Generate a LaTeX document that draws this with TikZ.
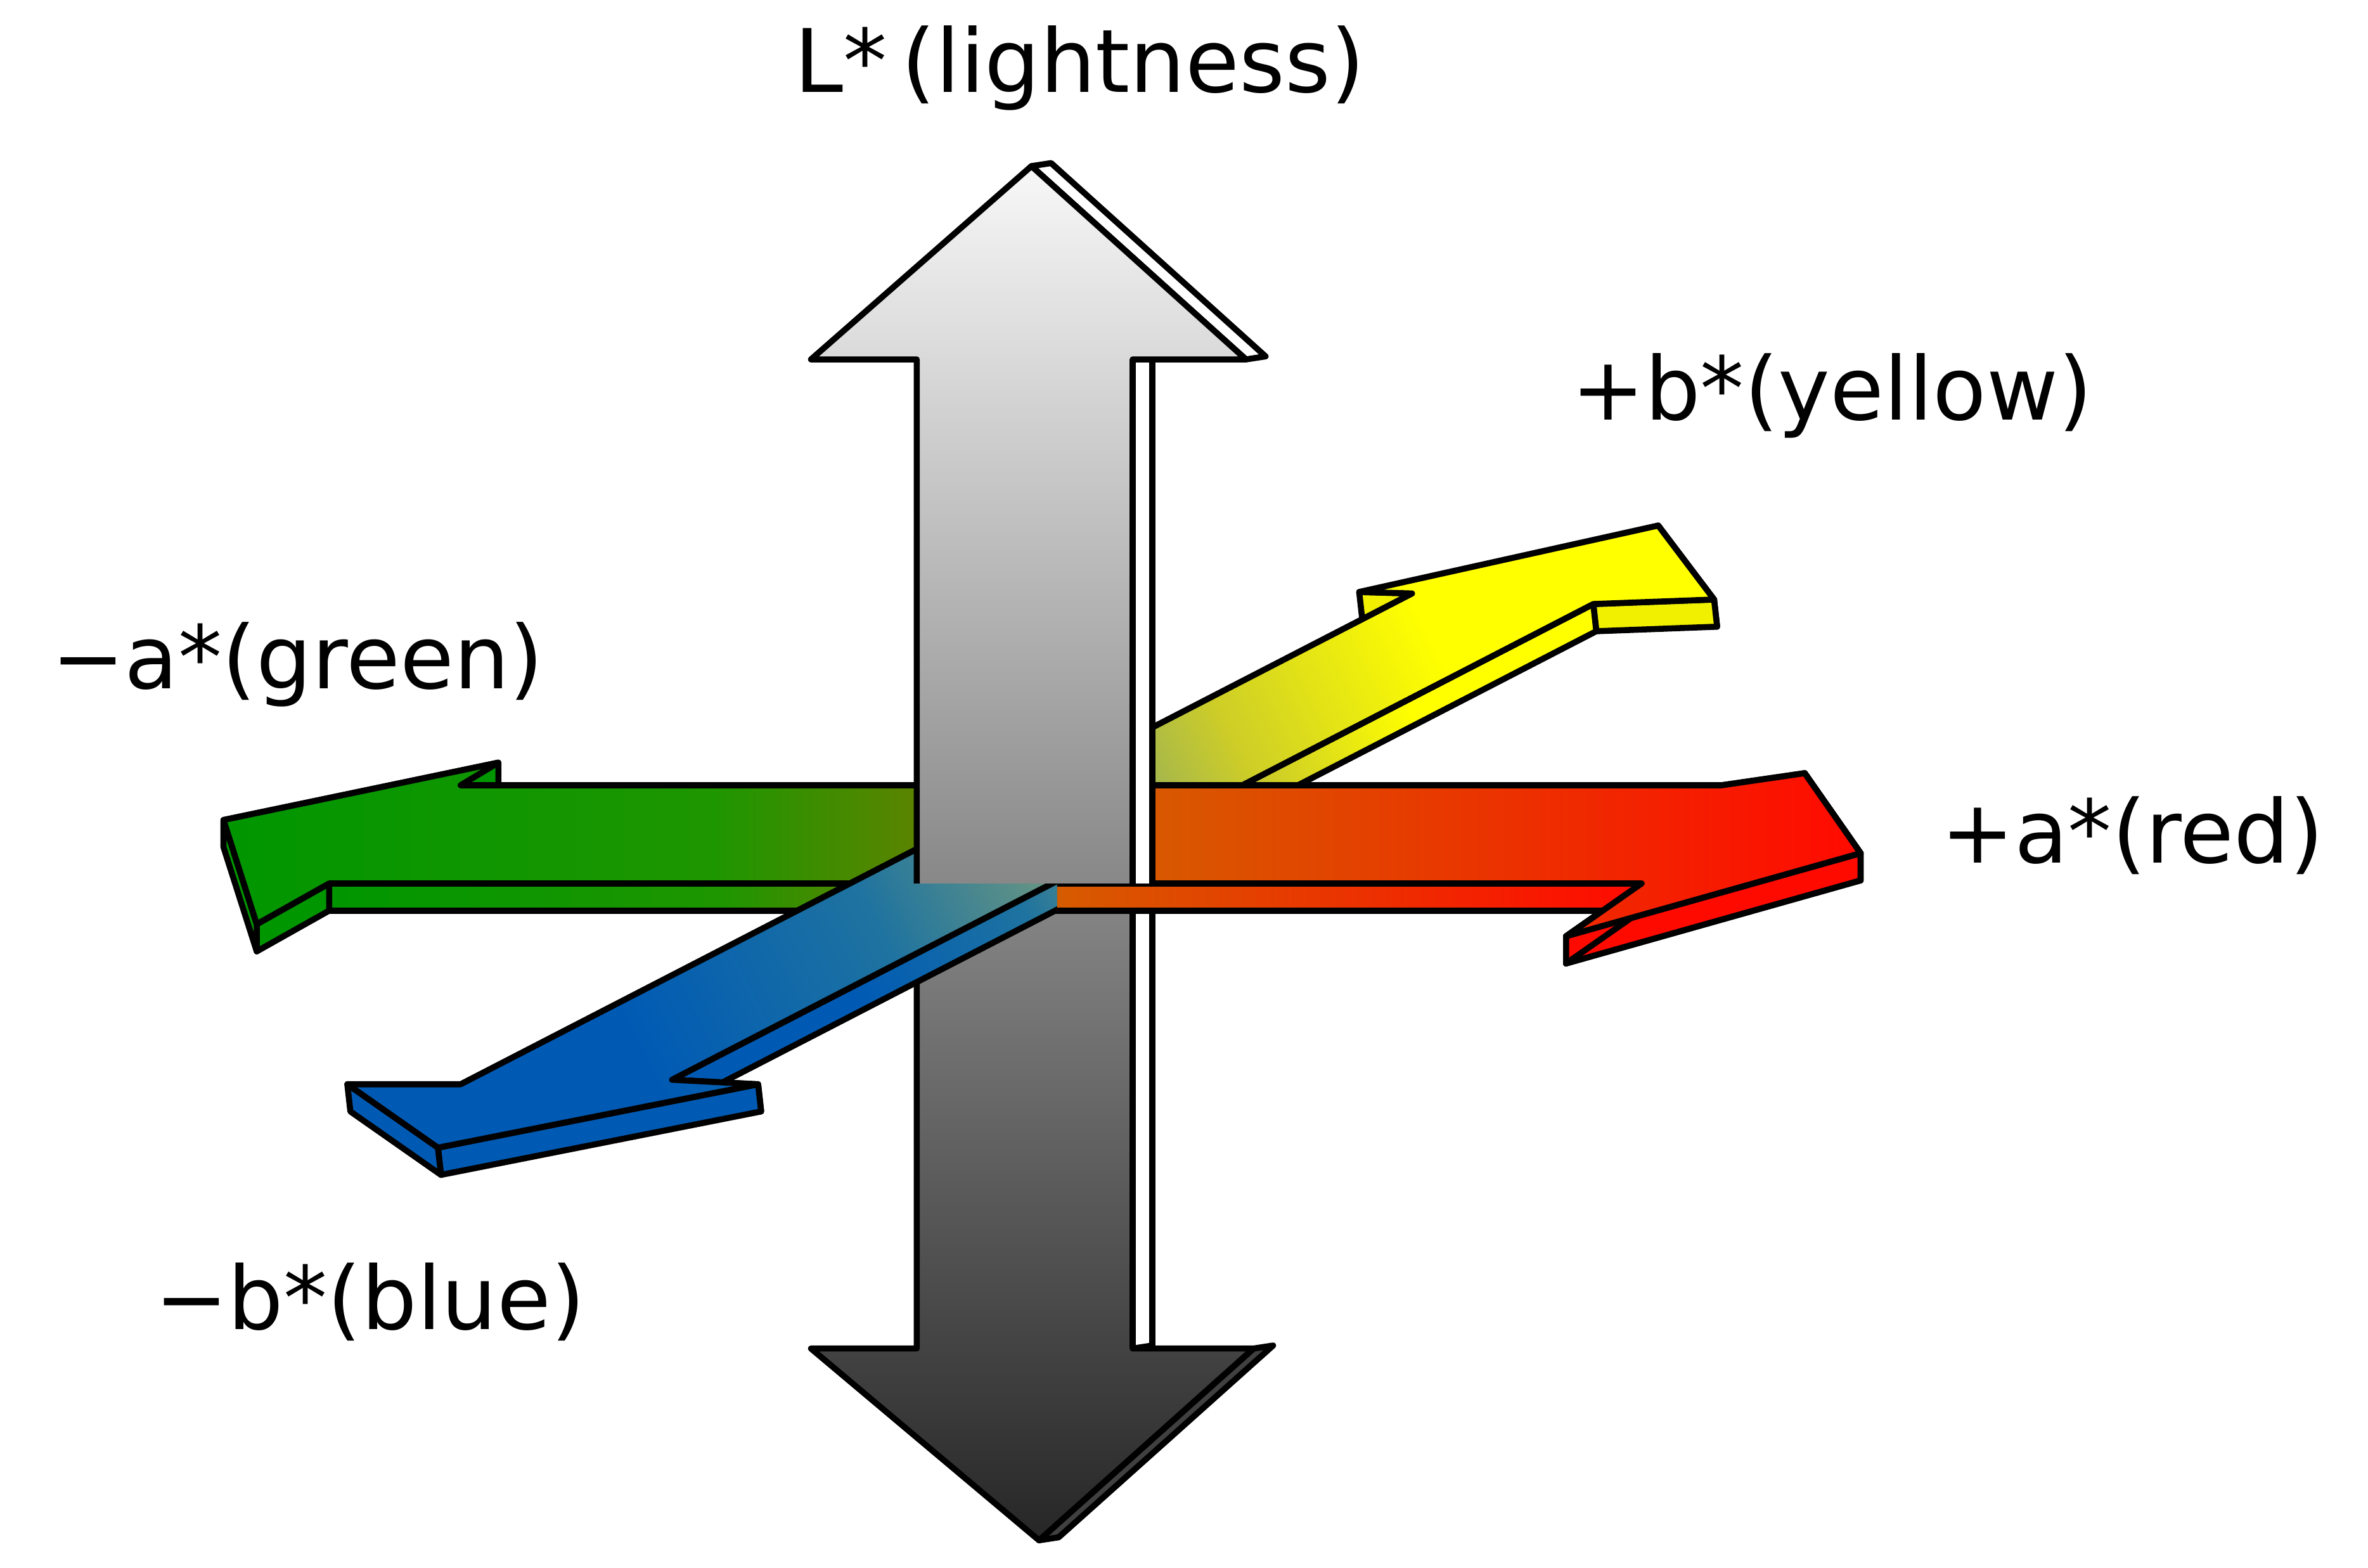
\documentclass[tikz,border=0pt]{standalone}
\usepackage{fontspec}
\setmainfont{DejaVu Sans}
\definecolor{ag1}{RGB}{0,150,0}
\definecolor{ag2}{RGB}{30,150,0}
\definecolor{ag3}{RGB}{130,120,0}
\definecolor{ag4}{RGB}{215,90,0}
\definecolor{ag5}{RGB}{255,10,0}
\definecolor{bb1}{RGB}{0,90,180}
\definecolor{bb2}{RGB}{30,115,160}
\definecolor{bb3}{RGB}{105,150,130}
\definecolor{bb4}{RGB}{205,205,40}
\definecolor{bb5}{RGB}{255,255,0}
\definecolor{yl}{RGB}{240,240,0}
\pgfdeclarehorizontalshading{ashade}{100bp}{color(0bp)=(ag1); color(25bp)=(ag1); color(40bp)=(ag2); color(50bp)=(ag3); color(53bp)=(ag4); color(75bp)=(ag5); color(100bp)=(ag5)}
\pgfdeclarehorizontalshading{bshade}{100bp}{color(0bp)=(bb1); color(30bp)=(bb1); color(42bp)=(bb2); color(50bp)=(bb3); color(60bp)=(bb4); color(70bp)=(bb5); color(100bp)=(bb5)}
\pgfdeclareverticalshading{lshade}{100bp}{color(0bp)=(black!85); color(25bp)=(black!85); color(50bp)=(black!45); color(75bp)=(black!3); color(100bp)=(black!3)}
\newcommand\sq[3]{(#2) -- (#3) -- ([shift={#1}]#3) -- ([shift={#1}]#2) -- cycle}
\tikzset{
  outl/.style={draw=black, line width=4, line join=round},
  lbl/.style={font=\fontsize{58}{62}\selectfont, inner sep=0pt}
}
\begin{document}
\begin{tikzpicture}[x=1pt,y=-1pt]
\useasboundingbox (0,0) rectangle (1568,1038);
% L arrow points
\coordinate (L1) at (683,110); \coordinate (L2) at (825,238); \coordinate (L3) at (750,238);
\coordinate (L4) at (750,893); \coordinate (L5) at (830,893); \coordinate (L6) at (688,1020);
\coordinate (L7) at (537,893); \coordinate (L8) at (607,893); \coordinate (L9) at (607,238);
\coordinate (L10) at (537,238);
% a arrow
\coordinate (A1) at (148,543); \coordinate (A2) at (330,505); \coordinate (A3) at (305,520);
\coordinate (A4) at (1140,520); \coordinate (A5) at (1195,512); \coordinate (A6) at (1232,565);
\coordinate (A7) at (1037,620); \coordinate (A8) at (1087,585); \coordinate (A9) at (218,585);
\coordinate (A10) at (170,612);
% b arrow
\coordinate (B1) at (935,393); \coordinate (B2) at (900,392); \coordinate (B3) at (1098,348);
\coordinate (B4) at (1135,397); \coordinate (B5) at (1055,400); \coordinate (B6) at (445,715);
\coordinate (B7) at (502,718); \coordinate (B8) at (290,760); \coordinate (B9) at (230,718);
\coordinate (B10) at (305,718);
\def\Lside{\path[outl, fill=white] \sq{(13,-2)}{L1}{L2};
  \path[outl, fill=white] \sq{(13,-2)}{L3}{L4};
  \path[outl, fill=black!75] \sq{(13,-2)}{L5}{L6};
  \path[outl, shading=lshade] (L1)--(L2)--(L3)--(L4)--(L5)--(L6)--(L7)--(L8)--(L9)--(L10)--cycle;}
\def\Aarrow{\path[outl, fill=ag1] \sq{(0,18)}{A1}{A2};
  \path[outl, fill=ag5] \sq{(0,18)}{A5}{A6};
  \path[outl, fill=ag5] \sq{(0,18)}{A6}{A7};
  \path[outl, fill=ag5] \sq{(0,18)}{A7}{A8};
  \path[outl, shading=ashade] \sq{(0,18)}{A8}{A9};
  \path[outl, fill=ag1] \sq{(0,18)}{A9}{A10};
  \path[outl, fill=ag1] \sq{(0,18)}{A10}{A1};
  \path[outl, shading=ashade] (A1)--(A2)--(A3)--(A4)--(A5)--(A6)--(A7)--(A8)--(A9)--(A10)--cycle;}
\def\Barrow{\path[outl, fill=yl] \sq{(2,18)}{B1}{B2};
  \path[outl, fill=yl] \sq{(2,18)}{B3}{B4};
  \path[outl, fill=yl] \sq{(2,18)}{B4}{B5};
  \path[outl, shading=bshade, shading angle=27] \sq{(2,18)}{B5}{B6};
  \path[outl, fill=bb1] \sq{(2,18)}{B6}{B7};
  \path[outl, fill=bb1] \sq{(2,18)}{B7}{B8};
  \path[outl, fill=bb1] \sq{(2,18)}{B8}{B9};
  \path[outl, shading=bshade, shading angle=27] (B1)--(B2)--(B3)--(B4)--(B5)--(B6)--(B7)--(B8)--(B9)--(B10)--cycle;}
% lower L
\begin{scope}\clip (0,585) rectangle (1568,1038); \Lside \end{scope}
\Aarrow
\Barrow
\begin{scope}\clip (700,0) rectangle (1568,1038); \Aarrow \end{scope}
% upper L
\begin{scope}\clip (0,0) rectangle (1568,585); \Lside \end{scope}
% labels
\node[lbl] (lL) at (715,45) {L*\,(lightness)};
\node[lbl] (lbp) at (1213,262) {+b*(yellow)};
\node[lbl] (lam) at (197,440) {−a*(green)};
\node[lbl] (lap) at (1412,553) {+a*(red)};
\node[lbl] (lbm) at (245,862) {−b*(blue)};
\end{tikzpicture}
\end{document}
